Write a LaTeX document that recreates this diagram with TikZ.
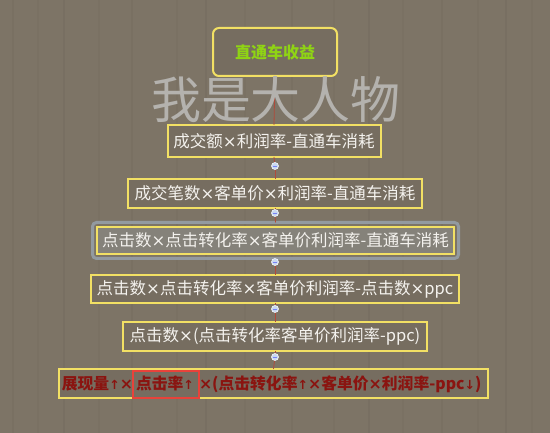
\documentclass[tikz,border=0pt]{standalone}
\usepackage{fontspec}
\setmainfont{Noto Sans CJK SC}
\newfontfamily\lat{DejaVu Sans}
\newcommand{\mul}{{\lat ×}}
\newcommand{\upar}{{\lat\fontsize{12.5}{15}\selectfont ↑}}
\newcommand{\dnar}{{\lat\fontsize{12.5}{15}\selectfont ↓}}
\begin{document}
\begin{tikzpicture}[x=1pt,y=-1pt,
  every node/.style={inner sep=0pt, outer sep=0pt},
  bx/.style={draw=boxyellow, line width=2pt, fill=boxfill, minimum height=29pt, text=textwhite, font=\fontsize{16.5}{18}\selectfont, inner xsep=5pt},
  link/.style={draw=linkred, line width=0.8pt},
  knob/.style={circle, fill=knobblue, draw=white!80!knobblue, line width=0.6pt, minimum size=7pt},
  boldred/.style={text=darkred, font=\fontsize{15.8}{18}\selectfont\bfseries, anchor=base},
  wm/.style={text=wmgray, font=\fontsize{50}{54}\selectfont}]
\definecolor{bg}{HTML}{7D7466}
\definecolor{boxfill}{HTML}{766D60}
\definecolor{boxyellow}{HTML}{F2E064}
\definecolor{textwhite}{HTML}{F4F2EE}
\definecolor{titlegreen}{HTML}{8FD414}
\definecolor{linkred}{HTML}{B04A3A}
\definecolor{knobblue}{HTML}{C8D8F0}
\definecolor{wmgray}{HTML}{B4B2AE}
\definecolor{selgray}{HTML}{939AA0}
\definecolor{darkred}{HTML}{8A1410}
\definecolor{hlred}{HTML}{E8423A}
\definecolor{selfill}{HTML}{85827A}
\fill[bg] (0,0) rectangle (550,433);
\useasboundingbox (0,0) rectangle (550,433);
% faint vertical texture
\foreach \xx/\op in {12/0.03,37/0.025,63/0.035,98/0.025,131/0.03,176/0.025,205/0.035,244/0.025,291/0.03,333/0.025,368/0.035,402/0.025,441/0.03,477/0.025,505/0.035,531/0.025}
  \fill[black, opacity=\op] (\xx,0) rectangle ++(2,433);

% connector knobs
\coordinate (k1) at (275,166);
\coordinate (k2) at (275,213);
\coordinate (k3) at (275,262);
\coordinate (k4) at (275,309);
\coordinate (k5) at (275,357);

\node[draw=boxyellow, line width=2pt, fill=boxfill, rounded corners=6pt, minimum width=124pt, minimum height=48pt,
      text=titlegreen, font=\fontsize{16}{18}\selectfont\bfseries] (n1) at (275,52) {直通车收益};

\node[bx, minimum width=213pt, minimum height=32pt] (n2) at (274,141) {成交额\mul 利润率-直通车消耗};
\node[bx, minimum width=294pt] (n3) at (275,193.5) {成交笔数\mul 客单价\mul 利润率-直通车消耗};
\node[draw=selgray, line width=3pt, rounded corners=4pt, minimum width=366pt, minimum height=36pt] (sel) at (275.5,240.5) {};
\node[bx, fill=selfill, minimum width=355pt, minimum height=27pt] (n4) at (275.5,240.5) {点击数\mul 点击转化率\mul 客单价利润率-直通车消耗};
\node[bx, minimum width=368pt, minimum height=28pt] (n5) at (275,289) {点击数\mul 点击转化率\mul 客单价利润率-点击数\mul ppc};
\node[bx, minimum width=304pt] (n6) at (275,336.5) {点击数\mul (点击转化率客单价利润率-ppc)};

% last node built from three pieces
\node[draw=boxyellow, line width=2pt, fill=boxfill, minimum width=429pt, minimum height=29pt] (n7) at (273.5,383.5) {};
\node[draw=hlred, line width=1.5pt, minimum width=66pt, minimum height=27pt] (hl) at (166,384.5) {};
\node[boldred] (t2) at (165,390) {点击率\upar};
\node[boldred, anchor=base east] (t1) at (hl.west |- t2.base) {展现量\upar\mul};
\node[boldred, anchor=base west] (t3) at (hl.east |- t2.base) {\mul(点击转化率\upar\mul 客单价\mul 利润率-ppc\dnar)};

\draw[link] (n1.south) -- (n2.north);
\draw[link] (n2.south) -- (k1);
\draw[link] (k1) -- (n3.north);
\draw[link] (n3.south) -- (k2);
\draw[link] (k2) -- (sel.north);
\draw[link] (sel.south) -- (k3);
\draw[link] (k3) -- (n5.north);
\draw[link] (n5.south) -- (k4);
\draw[link] (k4) -- (n6.north);
\draw[link] (n6.south) -- (k5);
\draw[link] (k5) -- (n7.north);
\foreach \k in {k1,k2,k3,k4,k5} {
  \node[knob] at (\k) {};
  \draw[blue!40!knobblue, line width=0.7pt] ([xshift=-2pt]\k) -- ([xshift=2pt]\k);
}
\node[wm] (wm) at (276,100) {我是大人物};
\end{tikzpicture}
\end{document}
